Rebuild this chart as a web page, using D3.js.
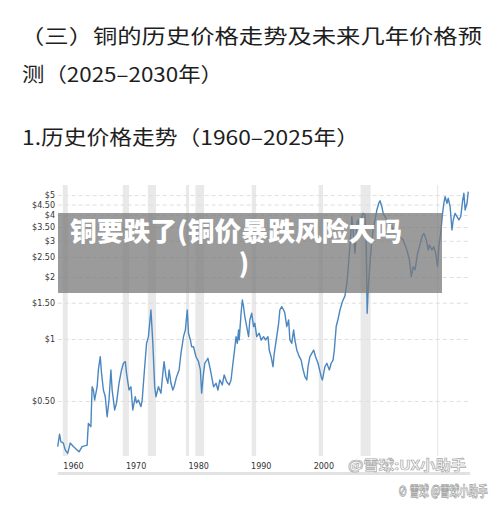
<!DOCTYPE html>
<html><head><meta charset="utf-8">
<script src="https://cdn.jsdelivr.net/npm/d3@7"></script>
<style>
html,body{margin:0;padding:0;background:#fff;}
svg{display:block;}
</style></head>
<body>
<svg id="c" width="500" height="508"></svg>
<script>
// ---- data ----
const years = [1959.5,1959.8,1960.0,1960.4,1960.7,1961.1,1961.5,1962.0,1962.6,1962.9,1963.4,1964.2,1964.4,1964.8,1965.0,1965.2,1965.4,1965.8,1966.0,1966.3,1966.5,1966.8,1967.1,1967.4,1967.7,1968.0,1968.2,1968.6,1968.9,1969.3,1969.7,1970.0,1970.3,1970.5,1970.9,1971.2,1971.5,1971.9,1972.1,1972.4,1972.8,1973.0,1973.4,1973.7,1974.0,1974.2,1974.4,1974.7,1975.0,1975.2,1975.6,1976.0,1976.3,1976.5,1976.8,1977.1,1977.3,1977.6,1977.9,1978.1,1978.5,1978.9,1979.2,1979.6,1979.9,1980.2,1980.4,1980.7,1980.9,1981.2,1981.6,1982.0,1982.3,1982.5,1982.8,1983.0,1983.5,1983.9,1984.1,1984.4,1984.8,1985.1,1985.4,1985.8,1986.1,1986.5,1986.9,1987.2,1987.5,1987.7,1988.0,1988.2,1988.4,1988.5,1988.8,1989.0,1989.2,1989.4,1989.7,1990.0,1990.2,1990.5,1990.8,1991.0,1991.3,1991.7,1992.0,1992.4,1992.7,1993.1,1993.3,1993.6,1993.9,1994.1,1994.5,1994.8,1995.0,1995.3,1995.6,1995.8,1996.1,1996.4,1996.6,1996.9,1997.2,1997.4,1997.7,1998.1,1998.4,1998.6,1999.0,1999.3,1999.5,1999.8,2000.1,2000.4,2000.7,2001.1,2001.6,2001.8,2002.2,2002.5,2002.9,2003.2,2003.5,2003.7,2004.0,2004.3,2004.6,2004.8,2005.0,2005.4,2005.7,2005.9,2006.1,2006.3,2006.5,2006.7,2007.0,2007.3,2007.5,2007.8,2008.1,2008.3,2008.6,2008.8,2008.95,2009.1,2009.4,2009.7,2009.9,2010.2,2010.5,2010.8,2011.0,2011.3,2011.5,2011.8,2012.1,2012.5,2012.9,2013.1,2013.7,2013.9,2014.2,2014.7,2015.3,2015.7,2016.0,2016.3,2016.6,2017.0,2017.3,2017.7,2018.0,2018.4,2018.7,2018.9,2019.3,2019.6,2019.9,2020.2,2020.4,2020.7,2021.0,2021.2,2021.4,2021.7,2021.9,2022.2,2022.5,2022.7,2023.0,2023.3,2023.6,2023.9,2024.2,2024.4,2024.6,2024.9,2025.1];
const prices = [0.300,0.345,0.317,0.312,0.289,0.278,0.312,0.300,0.289,0.283,0.300,0.305,0.389,0.375,0.586,0.565,0.505,0.586,0.707,0.820,0.684,0.565,0.524,0.419,0.505,0.707,0.565,0.452,0.489,0.611,0.707,0.762,0.776,0.681,0.565,0.586,0.452,0.524,0.489,0.505,0.469,0.505,0.733,0.953,1.026,1.192,1.383,0.953,0.586,0.524,0.586,0.545,0.681,0.776,0.656,0.609,0.707,0.609,0.565,0.586,0.656,0.707,0.852,1.026,1.106,1.383,1.066,0.989,0.917,0.917,0.820,0.776,0.707,0.545,0.681,0.762,0.806,0.707,0.656,0.586,0.609,0.565,0.632,0.598,0.669,0.620,0.598,0.632,0.762,0.852,1.026,0.953,1.106,0.989,1.333,1.547,1.435,1.283,1.148,1.026,1.237,1.333,1.148,1.192,1.026,1.066,0.989,1.026,0.989,1.026,0.884,0.820,0.733,0.852,1.026,1.192,1.383,1.435,1.383,1.333,1.148,1.237,0.989,0.953,1.106,0.989,0.884,0.820,0.790,0.733,0.656,0.632,0.733,0.820,0.852,0.884,0.820,0.762,0.656,0.632,0.733,0.762,0.707,0.762,0.790,0.884,1.150,1.250,1.383,1.450,1.520,1.620,1.865,2.164,2.608,3.140,3.928,3.385,2.608,3.648,3.786,3.385,3.928,4.080,4.003,2.808,1.333,1.730,2.332,3.027,3.385,3.786,4.234,4.564,4.698,4.393,4.080,3.928,3.786,3.648,3.512,3.385,3.512,3.262,3.140,3.027,2.707,2.420,2.008,2.245,2.164,2.608,2.808,3.140,3.262,3.027,2.707,2.862,2.707,2.808,2.608,2.245,2.808,3.262,4.080,4.564,4.913,4.564,4.826,4.393,3.385,3.786,4.080,3.928,3.786,3.928,4.698,5.104,4.234,4.564,5.196];
const recessionStart = [1960.3,1969.9,1973.9,1980.0,1981.5,1990.5,2001.2,2007.9,2020.1];
const recessionEnd   = [1961.1,1970.9,1975.2,1980.5,1982.9,1991.2,2001.9,2009.5,2020.3];
const yTickValues = [0.5,1,1.5,2,2.5,3,3.5,4,4.5,5];
const yTickLabels = ["$0.50","$1","$1.50","$2","$2.50","$3","$3.50","$4","$4.50","$5"];
const xTickValues = [1960,1970,1980,1990,2000];
const titleLines = ["（三）铜的历史价格走势及未来几年价格预","测（2025–2030年）","1.历史价格走势（1960–2025年）"];
const bannerLines = ["铜要跌了(铜价暴跌风险大吗", ")"];
const watermarkLines = ["@雪球:UX小助手", "⊘ 雪球 @雪球小助手"];

// ---- drawing ----
const svg = d3.select("#c");
const x = d3.scaleLinear().domain([1959.5, 2025.22]).range([57.7, 469]);
const y = d3.scaleLog().domain([0.27, 5.6]).range([456, 185]);

// titles
const tl = [{x:20,y:44,w:462},{x:22,y:81.5,w:201},{x:22,y:144.5,w:337}];
svg.selectAll("text.title").data(titleLines).join("text")
  .attr("class","title")
  .attr("x",(d,i)=>tl[i].x).attr("y",(d,i)=>tl[i].y)
  .attr("textLength",(d,i)=>tl[i].w).attr("lengthAdjust","spacingAndGlyphs")
  .attr("font-family","'Noto Sans CJK SC','Noto Sans',sans-serif")
  .attr("font-size",20).attr("fill","#1e1e1e")
  .text(d=>d);

// recession bands
svg.append("g").selectAll("rect").data(recessionStart).join("rect")
  .attr("x",(d)=>x(d))
  .attr("width",(d,i)=>Math.max(1.2, x(recessionEnd[i])-x(d)))
  .attr("y",185).attr("height",271)
  .attr("fill","#e9e9e9");

// gridlines
const grid = svg.append("g").attr("transform","translate(57.7,0)")
  .call(d3.axisLeft(y).tickValues(yTickValues).tickSize(-411).tickFormat(""));
grid.select(".domain").remove();
grid.selectAll("line").attr("stroke","#dedede").attr("stroke-dasharray","4,3").attr("stroke-width",1);

// y axis labels
const ya = svg.append("g").attr("transform","translate(55,0)")
  .call(d3.axisLeft(y).tickValues(yTickValues).tickSize(0).tickPadding(0)
    .tickFormat((d,i)=>yTickLabels[i]));
ya.select(".domain").remove();
ya.selectAll("text").attr("font-family","'DejaVu Sans',sans-serif").attr("font-size",8).attr("fill","#333");

// x axis labels
const xa = svg.append("g").attr("transform","translate(0,456)")
  .call(d3.axisBottom(x).tickValues(xTickValues).tickSize(0).tickFormat(d3.format("d")));
xa.select(".domain").remove();
xa.selectAll("text").attr("font-family","'DejaVu Sans',sans-serif").attr("font-size",8)
  .attr("fill","#333").attr("text-anchor","start").attr("dx",2).attr("y",12.5).attr("dy",0);

// bottom scroll bar
svg.append("line").attr("x1",58).attr("x2",470).attr("y1",473.5).attr("y2",473.5)
  .attr("stroke","#e2e2e2").attr("stroke-width",3);

// price line
const line = d3.line().x((d,i)=>x(years[i])).y((d,i)=>y(prices[i]));
svg.append("path").datum(prices).attr("d",line)
  .attr("fill","none").attr("stroke","#4a86c0").attr("stroke-width",1.4)
  .attr("stroke-linejoin","round");

// overlay banner
svg.append("rect").attr("x",58).attr("y",213).attr("width",384).attr("height",80)
  .attr("fill","#7a7a7a").attr("opacity",0.75);
const bl = [{x:70,y:241,w:332,a:"start"},{x:244,y:273,w:null,a:"middle"}];
svg.selectAll("text.banner").data(bannerLines).join("text")
  .attr("class","banner")
  .attr("x",(d,i)=>bl[i].x).attr("y",(d,i)=>bl[i].y)
  .attr("text-anchor",(d,i)=>bl[i].a)
  .each(function(d,i){ if(bl[i].w) d3.select(this).attr("textLength",bl[i].w).attr("lengthAdjust","spacingAndGlyphs"); })
  .attr("font-family","'Noto Sans CJK SC',sans-serif")
  .attr("font-size",26).attr("font-weight",900).attr("fill","#fff")
  .text(d=>d);

// watermark
const wl = [{x:348,y:470,s:12,sx:1.28,sy:1.1},{x:398,y:496,s:9.5,sx:1.0,sy:1.45}];
svg.selectAll("text.wm").data(watermarkLines).join("text")
  .attr("class","wm")
  .attr("transform",(d,i)=>`translate(${wl[i].x},${wl[i].y}) scale(${wl[i].sx},${wl[i].sy})`)
  .attr("font-family","'Noto Sans CJK SC',sans-serif")
  .attr("font-size",(d,i)=>wl[i].s).attr("font-weight",700)
  .attr("fill","#ffffff").attr("stroke","#a8a8a8").attr("stroke-width",0.6)
  .text(d=>d);
</script>
</body></html>
